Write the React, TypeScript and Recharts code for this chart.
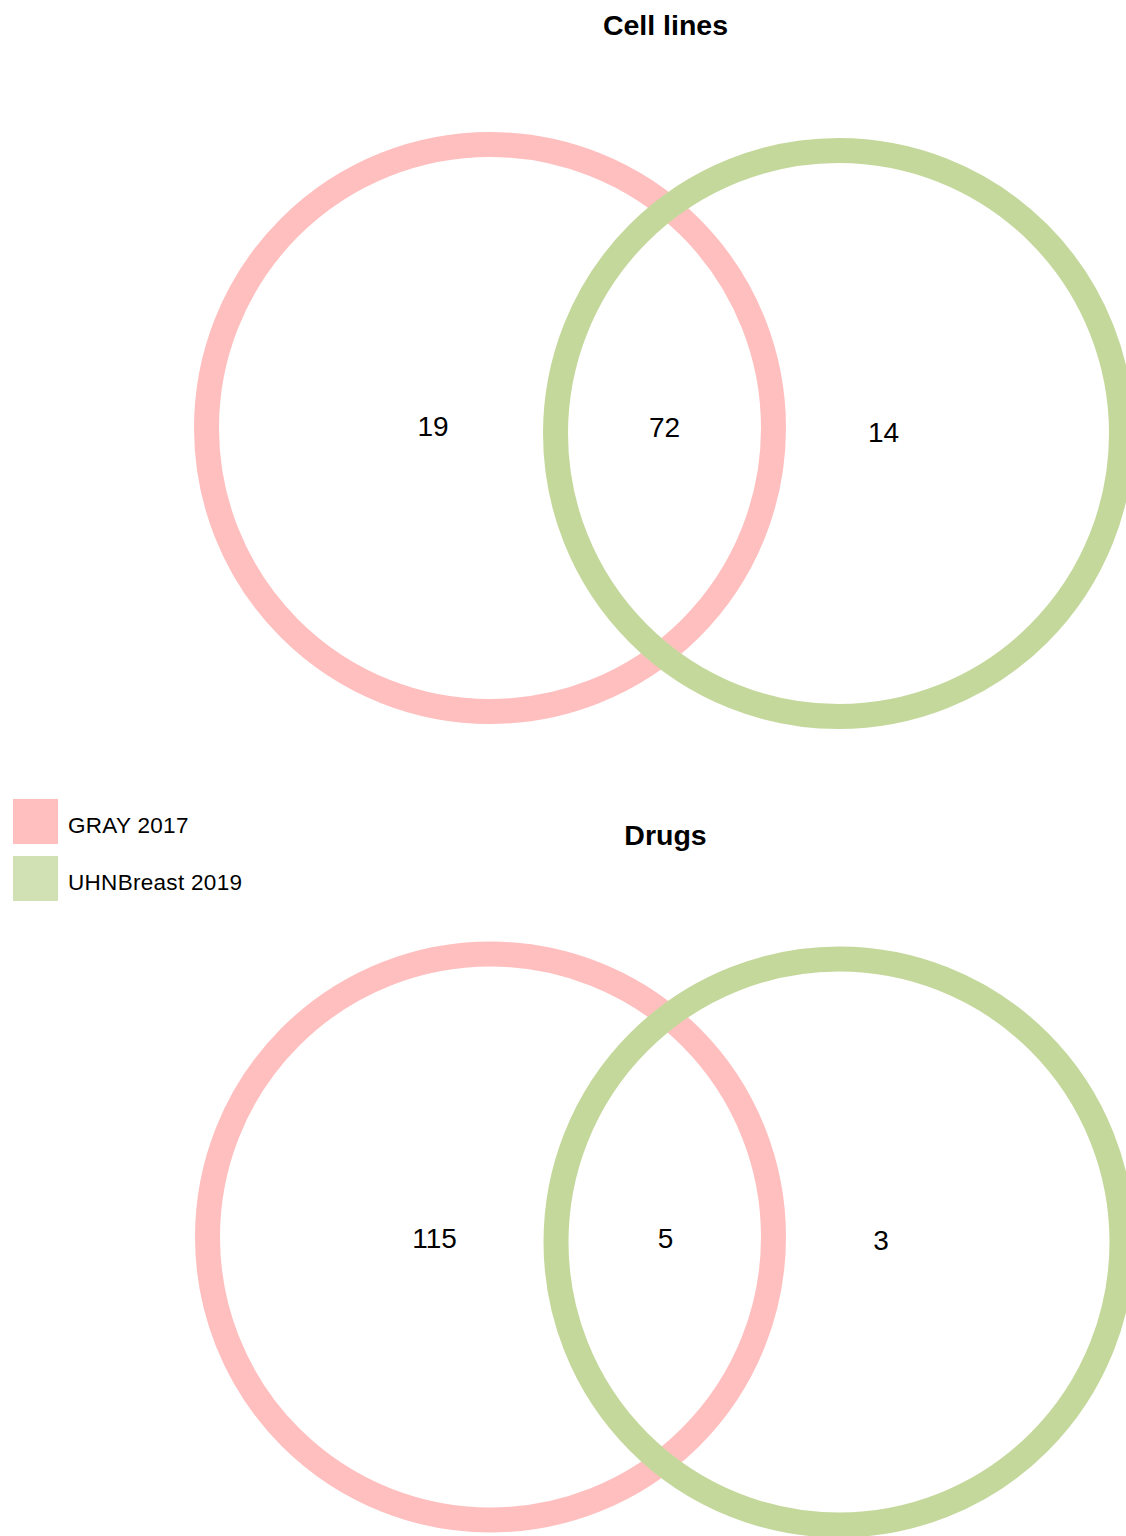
import React from "react";
import { ScatterChart, Scatter, XAxis, YAxis } from "recharts";

// ---- data ----
const panelTitles = ["Cell lines", "Drugs"];
const setNames = ["GRAY 2017", "UHNBreast 2019"];
const cellLineCounts = [19, 72, 14]; // only GRAY, both, only UHNBreast
const drugCounts = [115, 5, 3];

// ---- layout (data-space units, 1 unit = 1 px) ----
const CHART_W = 1126;
const CHART_H = 1536;
const X_DOMAIN: [number, number] = [0, 1126];
const Y_DOMAIN: [number, number] = [0, 1536];
const PX_PER_UNIT = CHART_W / (X_DOMAIN[1] - X_DOMAIN[0]);

const panelLayout = [
  {
    titleX: 665.5,
    titleY: 35,
    circles: [
      { x: 490, y: 428, r: 283.5 },
      { x: 838.5, y: 433.5, r: 283 },
    ],
    labels: [
      { x: 433, y: 436 },
      { x: 664.5, y: 437 },
      { x: 883.5, y: 442 },
    ],
  },
  {
    titleX: 665.5,
    titleY: 845,
    circles: [
      { x: 490.5, y: 1237, r: 283 },
      { x: 839, y: 1242, r: 283 },
    ],
    labels: [
      { x: 434.5, y: 1248 },
      { x: 665.5, y: 1248 },
      { x: 881, y: 1250 },
    ],
  },
];

const ringColors = ["#FFBFBF", "#C5D89C"];
const legendColors = ["#FFBFBF", "#D1E1B4"];
const legendLayout = [
  { x: 13, y: 799, size: 45, textX: 68, textY: 833 },
  { x: 13, y: 856, size: 45, textX: 68, textY: 890 },
];

const FONT = "'Liberation Sans', Arial, Helvetica, sans-serif";

const countsByPanel = [cellLineCounts, drugCounts];

// circles grouped by set so the second set is drawn on top
const circleData = setNames.map((name, s) =>
  panelLayout.map((p) => ({ x: p.circles[s].x, y: p.circles[s].y, r: p.circles[s].r, name }))
);

const labelData = panelLayout.flatMap((p, i) =>
  p.labels.map((l, k) => ({ x: l.x, y: l.y, text: String(countsByPanel[i][k]) }))
);

const titleData = panelLayout.map((p, i) => ({ x: p.titleX, y: p.titleY, text: panelTitles[i] }));

const legendData = setNames.map((name, i) => ({
  x: legendLayout[i].x,
  y: legendLayout[i].y,
  name,
  color: legendColors[i],
  size: legendLayout[i].size,
  dx: legendLayout[i].textX - legendLayout[i].x,
  dy: legendLayout[i].textY - legendLayout[i].y,
}));

const RingShape = (color: string) => (props: any) => (
  <circle
    cx={props.cx}
    cy={props.cy}
    r={props.payload.r * PX_PER_UNIT}
    fill="none"
    stroke={color}
    strokeWidth={25}
  />
);

const CountShape = (props: any) => (
  <text
    x={props.cx}
    y={props.cy}
    textAnchor="middle"
    fontFamily={FONT}
    fontSize={28}
    fill="#000"
  >
    {props.payload.text}
  </text>
);

const TitleShape = (props: any) => (
  <text
    x={props.cx}
    y={props.cy}
    textAnchor="middle"
    fontFamily={FONT}
    fontSize={28.5}
    fontWeight="bold"
    fill="#000"
  >
    {props.payload.text}
  </text>
);

const LegendShape = (props: any) => {
  const p = props.payload;
  const s = p.size * PX_PER_UNIT;
  return (
    <g>
      <rect x={props.cx} y={props.cy} width={s} height={s} fill={p.color} />
      <text
        x={props.cx + p.dx * PX_PER_UNIT}
        y={props.cy + p.dy * PX_PER_UNIT}
        fontFamily={FONT}
        fontSize={22.5}
        letterSpacing={0.3}
        fill="#000"
      >
        {p.name}
      </text>
    </g>
  );
};

export default function App() {
  return (
    <div style={{ position: "absolute", left: 0, top: 0, width: CHART_W, height: CHART_H, background: "#fff" }}>
      <ScatterChart width={CHART_W} height={CHART_H} margin={{ top: 0, right: 0, bottom: 0, left: 0 }}>
        <XAxis type="number" dataKey="x" domain={X_DOMAIN} hide allowDataOverflow />
        <YAxis type="number" dataKey="y" domain={Y_DOMAIN} reversed hide allowDataOverflow />
        {circleData.map((d, s) => (
          <Scatter
            key={"ring" + s}
            data={d}
            shape={RingShape(ringColors[s])}
            isAnimationActive={false}
          />
        ))}
        <Scatter data={labelData} shape={CountShape} isAnimationActive={false} />
        <Scatter data={titleData} shape={TitleShape} isAnimationActive={false} />
        <Scatter data={legendData} shape={LegendShape} isAnimationActive={false} />
      </ScatterChart>
    </div>
  );
}
